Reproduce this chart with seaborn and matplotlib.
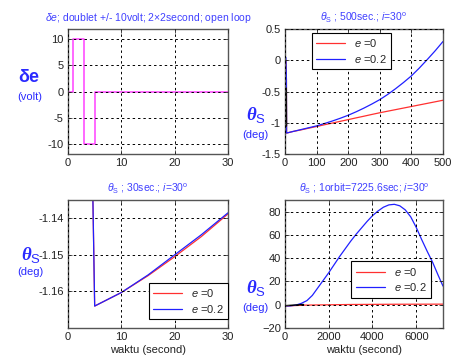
import numpy as np
import pandas as pd
import matplotlib
matplotlib.use("Agg")
import matplotlib.pyplot as plt
import seaborn as sns

# ---------------- data ----------------
# panel 1: elevator doublet
t_de = [0, 1, 1, 3, 3, 5, 5, 30]
de_volt = [0, 0, 10, 10, -10, -10, 0, 0]

# panel 2: 500 s
t_500 = [0, 2, 4.5, 5, 25, 50, 75, 100, 125, 150, 175, 200, 225, 250, 275, 300,
         325, 350, 375, 400, 425, 450, 475, 500]
th500_e0 = [-1.17, 0.0, -0.3, -1.165, -1.14, -1.115, -1.087, -1.06, -1.032, -1.005,
            -0.977, -0.95, -0.922, -0.895, -0.867, -0.84, -0.815, -0.79, -0.765,
            -0.74, -0.715, -0.69, -0.665, -0.64]
th500_e02 = [-1.17, 0.05, -0.3, -1.165, -1.14, -1.11, -1.08, -1.05, -1.012, -0.972,
             -0.928, -0.88, -0.825, -0.765, -0.70, -0.63, -0.547, -0.455, -0.356,
             -0.25, -0.125, 0.01, 0.15, 0.30]
t_500_k = [3, 3.5]
th500_k = [-0.45, -1.05]

# panel 3: 30 s
t_30 = [4.5, 5, 10, 15, 20, 25, 30]
th30_e0 = [-1.12, -1.164, -1.1603, -1.1557, -1.1505, -1.145, -1.1388]
th30_e02 = [-1.12, -1.164, -1.1603, -1.1555, -1.150, -1.1445, -1.1385]

# panel 4: one orbit
t_orb = [0, 250, 500, 750, 1000, 1250, 1500, 1750, 2000, 2250, 2500, 2750, 3000,
         3250, 3500, 3750, 4000, 4250, 4500, 4750, 5000, 5250, 5500, 5750, 6000,
         6250, 6500, 6750, 7000, 7225.6]
thorb_e02 = [-1, -1, -0.3, 1.2, 3.5, 8, 14.5, 21, 27.5, 34.5, 41.5, 48, 54.5,
             60.5, 66, 71.5, 76.5, 80.5, 83.8, 85.8, 86.3, 85, 81.5, 75.5, 66.5,
             56, 46, 36.5, 25.5, 16]
t_orb_r = [0, 1000, 3000, 5000, 7225.6]
thorb_e0 = [-1.1, -0.3, 0.2, 0.4, 0.5]
t_orb_k = [0, 850]
thorb_k = [-0.8, 0.2]

titles = [r"$\delta e$; doublet +/- 10volt; 2$\times$2second; open loop",
          r"$\theta_{\rm S}$ ; 500sec.; $i$=30$^{\rm o}$",
          r"$\theta_{\rm S}$ ; 30sec.; $i$=30$^{\rm o}$",
          r"$\theta_{\rm S}$ ; 1orbit=7225.6sec; $i$=30$^{\rm o}$"]
leg_labels = [r"$e$ =0", r"$e$ =0.2"]
xlab = "waktu (second)"

# ---------------- style ----------------
sns.set_theme(style="white")
plt.rcParams["font.family"] = ["Liberation Sans", "DejaVu Sans"]
plt.rcParams["mathtext.fontset"] = "custom"
plt.rcParams["mathtext.rm"] = "Liberation Sans"
plt.rcParams["mathtext.it"] = "Liberation Sans:italic"
plt.rcParams["mathtext.bf"] = "Liberation Serif:italic:bold"

TCOL = "#4040ff"
LCOL = "#2a2aff"
RED = "#ff3030"
BLUE = "#2020ff"
MAG = "#ff40ff"

W, H = 453, 364
fig = plt.figure(figsize=(W / 100, H / 100), dpi=100)
fig.patch.set_facecolor("white")

def axpos(l, t, r, b):
    return [l / W, 1 - b / H, (r - l) / W, (b - t) / H]

ax1 = fig.add_axes(axpos(68, 29, 228, 154))
ax2 = fig.add_axes(axpos(285, 29, 443, 154))
ax3 = fig.add_axes(axpos(68, 200, 228, 328))
ax4 = fig.add_axes(axpos(285, 200, 443, 328))

def line(ax, x, y, color, lw=0.9, label=None):
    sns.lineplot(x=x, y=y, ax=ax, color=color, lw=lw, sort=False,
                 estimator=None, label=label, legend=False)

line(ax1, t_de, de_volt, MAG, lw=1.1)

line(ax2, t_500, th500_e0, RED, label=leg_labels[0])
line(ax2, t_500, th500_e02, BLUE, label=leg_labels[1])
line(ax2, t_500_k, th500_k, "black", lw=1.5)

line(ax3, t_30, th30_e0, RED, label=leg_labels[0])
line(ax3, t_30, th30_e02, BLUE, label=leg_labels[1])

line(ax4, t_orb_r, thorb_e0, RED, label=leg_labels[0])
line(ax4, t_orb, thorb_e02, BLUE, label=leg_labels[1])
line(ax4, t_orb_k, thorb_k, "black", lw=1.0)

# limits / ticks
ax1.set_xlim(0, 30); ax1.set_ylim(-12, 12)
ax1.set_xticks([0, 10, 20, 30]); ax1.set_yticks([-10, -5, 0, 5, 10])
ax1.set_yticklabels(["-10", "-5", "0", "5", "10"])
ax2.set_xlim(0, 500); ax2.set_ylim(-1.5, 0.5)
ax2.set_xticks([0, 100, 200, 300, 400, 500]); ax2.set_yticks([-1.5, -1, -0.5, 0, 0.5])
ax2.set_yticklabels(["-1.5", "-1", "-0.5", "0", "0.5"])
ax3.set_xlim(0, 30); ax3.set_ylim(-1.17, -1.135)
ax3.set_xticks([0, 10, 20, 30]); ax3.set_yticks([-1.16, -1.15, -1.14])
ax3.set_yticklabels(["-1.16", "-1.15", "-1.14"])
ax4.set_xlim(0, 7225.6); ax4.set_ylim(-20, 90)
ax4.set_xticks([0, 2000, 4000, 6000]); ax4.set_yticks([-20, 0, 20, 40, 60, 80])

for ax, ttl in zip([ax1, ax2, ax3, ax4], titles):
    ax.set_facecolor("white")
    ax.grid(True, color="black", linestyle=(0, (2.5, 3)), linewidth=0.7)
    ax.set_axisbelow(False)
    for s in ax.spines.values():
        s.set_visible(True)
        s.set_color("#555555")
        s.set_linewidth(1.0)
    ax.tick_params(direction="in", length=3, width=0.6, colors="#333333",
                   labelsize=8, labelcolor="#222222", pad=3,
                   top=True, right=True, bottom=True, left=True)
    ax.set_xlabel(""); ax.set_ylabel("")
    ax.set_title(ttl, color=TCOL, fontsize=7.5, pad=6)

ax3.set_xlabel(xlab, fontsize=8, color="#222222", labelpad=2)
ax4.set_xlabel(xlab, fontsize=8, color="#222222", labelpad=2)

# legends
leg_kw = dict(fontsize=8, frameon=True, fancybox=False, framealpha=1,
              edgecolor="black", handlelength=2.6, borderpad=0.4,
              labelspacing=0.3, borderaxespad=0)
l2 = ax2.legend(loc="upper left", bbox_to_anchor=(0.17, 0.97), **leg_kw)
l3 = ax3.legend(loc="lower right", bbox_to_anchor=(1.0, 0.07), **leg_kw)
l4 = ax4.legend(loc="upper left", bbox_to_anchor=(0.42, 0.52), **leg_kw)
for l in (l2, l3, l4):
    l.get_frame().set_linewidth(0.8)

# side labels
def fx(px): return px / W
def fy(py): return 1 - py / H

fig.text(fx(29), fy(78), "δe", color=LCOL, fontsize=13,
         fontweight="bold", ha="center", va="center")
fig.text(fx(30), fy(97), "(volt)", color=LCOL, fontsize=8, ha="center", va="center")
for (xc, yc, yd) in [(256, 115, 135), (31, 255, 272), (256, 288, 308)]:
    fig.text(fx(xc), fy(yc), r"$\mathbf{\theta}_{\mathrm{S}}$", color=LCOL,
             fontsize=13.5, ha="center", va="center")
    fig.text(fx(xc - 1), fy(yd), "(deg)", color=LCOL, fontsize=8,
             ha="center", va="center")

fig.savefig("out.png", dpi=100, facecolor="white")
